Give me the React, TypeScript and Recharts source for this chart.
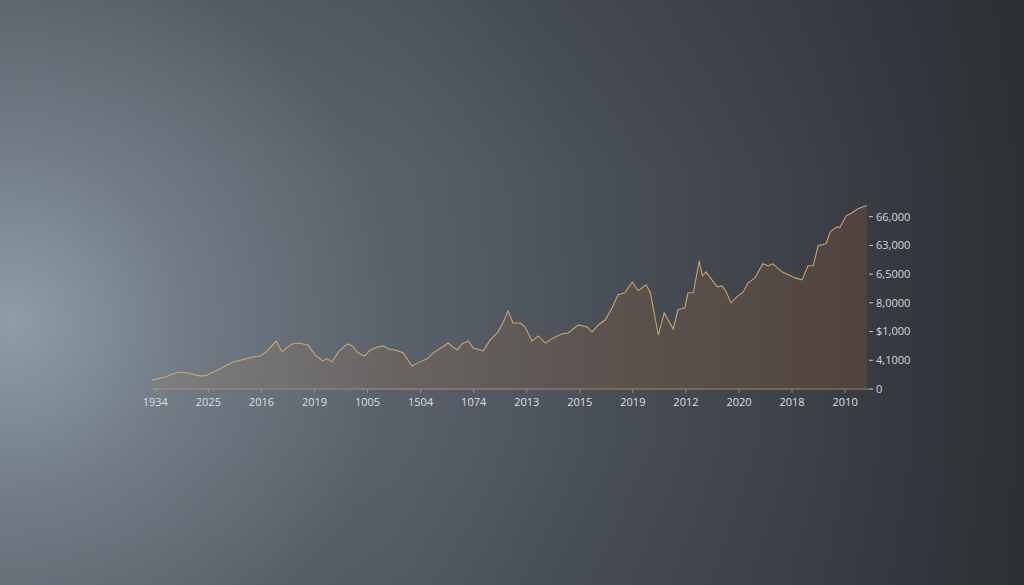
import { Area, AreaChart, XAxis, YAxis } from "recharts";

// x position in label slots (0 = first label), value
const periods = [
  -0.06, 0.19, 0.43, 0.62, 0.85, 0.98, 1.17, 1.32, 1.47, 1.7, 1.85, 1.98, 2.07, 2.17, 2.28, 2.39,
  2.49, 2.58, 2.69, 2.88, 3.01, 3.15, 3.24, 3.33, 3.45, 3.62, 3.71, 3.82, 3.94, 4.05, 4.18, 4.3,
  4.39, 4.56, 4.67, 4.84, 4.95, 5.12, 5.24, 5.41, 5.52, 5.61, 5.69, 5.78, 5.9, 5.99, 6.18, 6.31,
  6.46, 6.56, 6.65, 6.74, 6.88, 6.97, 7.1, 7.22, 7.35, 7.5, 7.67, 7.78, 7.97, 8.14, 8.23, 8.35,
  8.48, 8.61, 8.72, 8.85, 8.99, 9.1, 9.25, 9.33, 9.38, 9.48, 9.59, 9.76, 9.85, 9.98, 10.04, 10.14,
  10.25, 10.31, 10.38, 10.49, 10.59, 10.68, 10.76, 10.85, 10.96, 11.08, 11.17, 11.3, 11.45, 11.55,
  11.64, 11.81, 11.93, 12.06, 12.19, 12.3, 12.4, 12.49, 12.64, 12.72, 12.85, 12.9, 13.02, 13.13,
  13.24, 13.41,
];

const values = [
  3100, 4200, 5900, 5600, 4500, 4900, 6600, 8000, 9400, 10500, 11200, 11500, 12600, 14600, 16700, 12900,
  14600, 15700, 16000, 15300, 11900, 9800, 10500, 9400, 12900, 15700, 15000, 12600, 11500, 13600, 14600, 15000,
  14000, 13300, 12600, 8000, 9100, 10500, 12600, 14600, 16000, 14600, 13600, 15700, 16700, 14300, 13300, 17100,
  19900, 23400, 27200, 23000, 23000, 21600, 16700, 18500, 16000, 17800, 19200, 19500, 22300, 21600, 19900, 22300,
  24100, 28300, 32800, 33500, 37300, 34200, 36300, 33500, 28600, 18800, 26500, 20900, 27600, 28300, 33500, 33500,
  44600, 39400, 40800, 38000, 35600, 35900, 33800, 30000, 32100, 33800, 37000, 38700, 43600, 42900,
  43600, 40800, 39800, 38700, 38000, 42900, 42900, 49900, 50600, 54800, 56500, 56200, 60300, 61400,
  62800, 63900,
];

const xLabels = [
  "1934", "2025", "2016", "2019", "1005", "1504", "1074", "2013", "2015", "2019", "2012", "2020", "2018", "2010",
];

const yTicks = [0, 10000, 20000, 30000, 40000, 50000, 60000];
const yLabels = ["0", "4,1000", "$1,000", "8,0000", "6,5000", "63,000", "66,000"];

const data = periods.map((x, i) => ({ x, v: values[i] }));

export default function App() {
  return (
    <div
      style={{
        position: "absolute",
        left: 0,
        top: 0,
        width: 1024,
        height: 585,
        overflow: "hidden",
        background:
          "radial-gradient(ellipse 58% 100% at 1% 55%, rgba(146,160,170,0.95) 0%, rgba(122,134,144,0.7) 30%, rgba(100,108,117,0.25) 65%, rgba(95,104,113,0) 100%)," +
          "linear-gradient(180deg, rgba(40,44,50,0.22) 0%, rgba(40,44,50,0) 30%, rgba(40,44,50,0) 75%, rgba(40,44,50,0.12) 100%)," +
          "linear-gradient(90deg, #5f6770 0%, #555c65 40%, #41464d 72%, #2d3035 100%)",
      }}
    >
      <AreaChart
        width={1024}
        height={585}
        data={data}
        margin={{ top: 188, right: 95, left: 150, bottom: 166 }}
        style={{ fontFamily: "'Open Sans', sans-serif" }}
      >
        <defs>
          <linearGradient id="fillBrown" x1="0" y1="0" x2="1" y2="0">
            <stop offset="0%" stopColor="#a08064" stopOpacity={0.18} />
            <stop offset="55%" stopColor="#6e5a4c" stopOpacity={0.5} />
            <stop offset="100%" stopColor="#52443e" stopOpacity={0.95} />
          </linearGradient>
        </defs>
        <XAxis
          dataKey="x"
          type="number"
          domain={[-0.1, 13.45]}
          ticks={xLabels.map((_, i) => i)}
          tickFormatter={(i: number) => xLabels[i] ?? ""}
          interval={0}
          height={30}
          stroke="#b89a74"
          strokeOpacity={0.75}
          tickSize={4}
          tickMargin={5}
          tick={{ fill: "#dcdfe2", fontSize: 11 }}
          allowDataOverflow
        />
        <YAxis
          orientation="right"
          type="number"
          domain={[0, 70000]}
          ticks={yTicks}
          tickFormatter={(v: number) => yLabels[yTicks.indexOf(v)] ?? ""}
          axisLine={false}
          tickSize={4}
          tickMargin={3}
          width={60}
          stroke="#c6c9cc"
          tick={{ fill: "#d3d6d9", fontSize: 11, textAnchor: "start" }}
        />
        <Area
          type="linear"
          dataKey="v"
          stroke="#cfae6e"
          strokeOpacity={0.9}
          strokeWidth={1.1}
          fill="url(#fillBrown)"
          fillOpacity={1}
          isAnimationActive={false}
          dot={false}
        />
      </AreaChart>
    </div>
  );
}
